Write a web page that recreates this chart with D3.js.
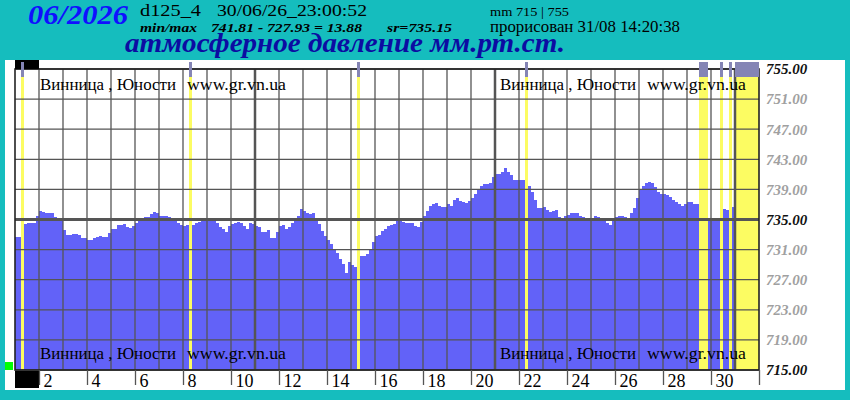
<!DOCTYPE html>
<html>
<head>
<meta charset="utf-8">
<title>атмосферное давление 06/2026</title>
<script src="https://d3js.org/d3.v7.min.js"></script>
<style>
  body { margin: 0; background: #15bdbe; }
  svg text { font-family: "Liberation Serif", "Times New Roman", serif; }
</style>
</head>
<body>
<div id="chart"></div>
<script>
// axis span: days 1..31 of the grid, data has 8 readings (3 h) per day
var dayCount = 31;
var stepsPerDay = 8;
var xTickDays = [2, 4, 6, 8, 10, 12, 14, 16, 18, 20, 22, 24, 26, 28, 30, 32];
var thickDays = [11, 21, 31];
var yTicks = [715, 719, 723, 727, 731, 735, 739, 743, 747, 751, 755];
var boldTicks = [715, 735, 755];
var placeLabel = "Винница , Юности";
var siteLabel = "www.gr.vn.ua";

// pressure, mm Hg, one row per day, null = no data
var pressure = [
  732.7, 732.7, null, 734.4, 734.5, 734.5, 734.6, 735.5,
  736.1, 736.0, 735.9, 735.9, 735.9, 735.3, 735.2, 735.2,
  733.6, 733.0, 733.0, 733.1, 733.1, 733.0, 732.6, 732.6,
  732.3, 732.3, 732.6, 732.7, 732.8, 732.7, 732.7, 733.2,
  733.8, 733.8, 734.3, 734.3, 734.4, 734.0, 733.9, 734.1,
  734.6, 735.0, 735.1, 735.3, 735.3, 735.7, 736.0, 735.8,
  735.4, 735.4, 735.5, 735.3, 735.0, 735.0, 734.5, 734.3,
  734.2, 734.3, null, 734.3, 734.5, 734.7, 734.9, 735.0,
  735.0, 734.9, 734.8, 734.6, 734.0, 733.7, 733.4, 734.2,
  734.4, 734.6, 734.7, 734.5, 734.1, 733.8, 734.5, 734.4,
  734.1, 734.0, 733.4, 733.4, 733.6, 732.6, 732.5, 733.4,
  734.2, 734.3, 733.8, 734.0, 734.6, 735.0, 735.4, 736.4,
  736.1, 735.8, 735.7, 735.8, 735.0, 734.4, 733.5, 732.8,
  732.3, 731.7, 731.1, 730.5, 729.8, 729.1, 727.9, 729.3,
  729.0, 728.7, null, 730.1, 730.2, 730.4, 731.0, 732.0,
  732.8, 733.0, 733.5, 733.7, 734.2, 734.3, 734.4, 735.1,
  735.0, 734.7, 734.6, 734.5, 734.5, 734.1, 734.0, 734.7,
  735.5, 736.1, 736.8, 737.0, 737.2, 736.8, 736.6, 736.6,
  737.0, 736.8, 737.6, 737.8, 737.5, 737.3, 737.2, 737.4,
  737.8, 738.4, 738.9, 739.5, 739.7, 739.7, 739.9, 740.6,
  741.1, 741.0, 741.3, 741.8, 741.3, 740.9, 740.2, 740.3,
  740.3, 740.3, null, 739.4, 738.7, 737.6, 736.5, 736.5,
  736.7, 736.3, 736.0, 736.1, 736.3, 735.3, 735.1, 735.4,
  735.6, 735.9, 735.9, 735.8, 735.4, 735.3, 735.1, 735.0,
  735.2, 735.4, 735.3, 735.0, 735.0, 734.5, 734.3, 734.8,
  735.3, 735.5, 735.5, 735.3, 735.2, 735.9, 736.5, 737.8,
  738.9, 739.5, 739.8, 740.0, 739.8, 739.3, 738.7, 738.4,
  738.4, 738.3, 738.0, 737.6, 737.3, 737.0, 736.8, 737.0,
  737.3, 737.3, 737.1, 737.0, null, null, null, 735.0,
  735.0, 735.0, 735.2, null, 736.4, 736.3, null, 736.6
];

var width = 850, height = 400;
var plot = { left: 15, right: 759, top: 69, bottom: 370 };

var svg = d3.select("#chart").append("svg")
  .attr("width", width)
  .attr("height", height);

var x = d3.scaleLinear().domain([1, dayCount + 1]).range([plot.left, plot.right]);
var y = d3.scaleLinear().domain([715, 755]).range([plot.bottom, plot.top]);

// slots over the whole grid, the ones past the data end count as gaps
var slots = d3.range(dayCount * stepsPerDay).map(function(i) {
  return { t: 1 + i / stepsPerDay, v: i < pressure.length ? pressure[i] : null };
});
var step = 1 / stepsPerDay;

// merge missing slots into bands
var gaps = [];
slots.forEach(function(s) {
  if (s.v != null) return;
  var last = gaps[gaps.length - 1];
  if (last && Math.abs(last[1] - s.t) < 1e-9) last[1] = s.t + step;
  else gaps.push([s.t, s.t + step]);
});

svg.append("rect").attr("width", width).attr("height", height).attr("fill", "#15bdbe");
svg.append("rect").attr("x", 5).attr("y", 60).attr("width", 840).attr("height", 330).attr("fill", "#fff");

// missing data bands
svg.append("g").selectAll("rect")
  .data(gaps).enter().append("rect")
  .attr("x", function(d) { return x(d[0]); })
  .attr("width", function(d) { return x(d[1]) - x(d[0]); })
  .attr("y", plot.top)
  .attr("height", plot.bottom - plot.top)
  .attr("fill", "#fcfc62");

// pressure bars
svg.append("g").attr("shape-rendering", "crispEdges")
  .selectAll("rect")
  .data(slots.filter(function(s) { return s.v != null; }))
  .enter().append("rect")
  .attr("x", function(d) { return x(d.t); })
  .attr("width", function(d) { return x(d.t + step) - x(d.t); })
  .attr("y", function(d) { return y(d.v); })
  .attr("height", function(d) { return y(715) - y(d.v); })
  .attr("fill", "#6262f8");

// grid
var grid = svg.append("g").attr("stroke", "#555");
grid.selectAll(".h").data(yTicks).enter().append("line")
  .attr("x1", plot.left).attr("x2", plot.right)
  .attr("y1", function(d) { return y(d); })
  .attr("y2", function(d) { return y(d); })
  .attr("stroke-width", function(d) { return d === 735 ? 3 : 1.3; });
grid.selectAll(".v").data(d3.range(2, dayCount + 1)).enter().append("line")
  .attr("x1", function(d) { return x(d); })
  .attr("x2", function(d) { return x(d); })
  .attr("y1", plot.top).attr("y2", plot.bottom)
  .attr("stroke-width", function(d) { return thickDays.indexOf(d) >= 0 ? 2.5 : 1.3; });

svg.append("rect")
  .attr("x", plot.left).attr("y", plot.top)
  .attr("width", plot.right - plot.left).attr("height", plot.bottom - plot.top)
  .attr("fill", "none").attr("stroke", "#222").attr("stroke-width", 1.6);

// day 1 boxes and green marker
svg.append("rect").attr("x", x(1)).attr("y", 60).attr("width", x(2) - x(1)).attr("height", plot.top - 60).attr("fill", "#000");
svg.append("rect").attr("x", x(1)).attr("y", plot.bottom + 1).attr("width", x(2) - x(1)).attr("height", 17).attr("fill", "#000");
svg.append("rect").attr("x", 5).attr("y", 362).attr("width", 8).attr("height", 8).attr("fill", "#00ff00");

// gap markers on the top edge
svg.append("g").selectAll("rect")
  .data(gaps).enter().append("rect")
  .attr("x", function(d) { return x(d[0]); })
  .attr("width", function(d) { return x(d[1]) - x(d[0]); })
  .attr("y", 62).attr("height", 15)
  .attr("fill", "#8585b5");

// place captions
var corners = [[40, 90], [500, 90], [40, 359], [500, 359]];
corners.forEach(function(c) {
  svg.append("text").attr("x", c[0]).attr("y", c[1]).attr("font-size", 17)
    .attr("textLength", 136).attr("lengthAdjust", "spacingAndGlyphs").text(placeLabel);
  svg.append("text").attr("x", c[0] + 147).attr("y", c[1]).attr("font-size", 17)
    .attr("textLength", 99).attr("lengthAdjust", "spacingAndGlyphs").text(siteLabel);
});

// right axis
var yAxis = svg.append("g")
  .attr("transform", "translate(" + plot.right + ",0)")
  .call(d3.axisRight(y).tickValues(yTicks).tickFormat(d3.format(".2f")).tickSize(0).tickPadding(7));
yAxis.select(".domain").remove();
yAxis.selectAll("text")
  .attr("font-size", 15)
  .attr("font-weight", "bold")
  .attr("font-style", "italic")
  .attr("font-family", "Liberation Serif")
  .attr("fill", function(d) { return boldTicks.indexOf(d) >= 0 ? "#111" : "#a0a0a0"; });

// bottom axis
var xAxis = svg.append("g")
  .attr("transform", "translate(0," + plot.bottom + ")")
  .call(d3.axisBottom(x).tickValues(xTickDays).tickSize(15)
    .tickFormat(function(d) { return d <= 30 ? d : ""; }));
xAxis.select(".domain").remove();
xAxis.selectAll("line").attr("stroke", "#555").attr("stroke-width", 1.3);
xAxis.selectAll("text")
  .attr("text-anchor", "start")
  .attr("x", 4).attr("y", 17).attr("dy", 0)
  .attr("font-size", 18)
  .attr("font-family", "Liberation Serif")
  .attr("fill", "#000");

// header
var head = function(xx, yy, size, len, txt) {
  return svg.append("text").attr("x", xx).attr("y", yy)
    .attr("font-size", size)
    .attr("textLength", len).attr("lengthAdjust", "spacingAndGlyphs")
    .text(txt);
};
head(28, 24, 27, 100, "06/2026")
  .attr("font-weight", "bold").attr("font-style", "italic").attr("fill", "#1010ff");
head(140, 16, 17, 61, "d125_4");
head(217, 16, 17, 150, "30/06/26_23:00:52");
head(140, 32, 13.5, 57, "min/max").attr("font-weight", "bold").attr("font-style", "italic");
head(211, 32, 13.5, 151, "741.81 - 727.93 = 13.88").attr("font-weight", "bold").attr("font-style", "italic");
head(387, 32, 13.5, 65, "sr=735.15").attr("font-weight", "bold").attr("font-style", "italic");
head(490, 16, 13, 79, "mm 715 | 755");
head(490, 31.5, 16, 190, "прорисован 31/08 14:20:38");
head(125, 52, 27, 440, "атмосферное давление мм.рт.ст.")
  .attr("font-weight", "bold").attr("font-style", "italic").attr("fill", "#0c0ca2");
</script>
</body>
</html>
